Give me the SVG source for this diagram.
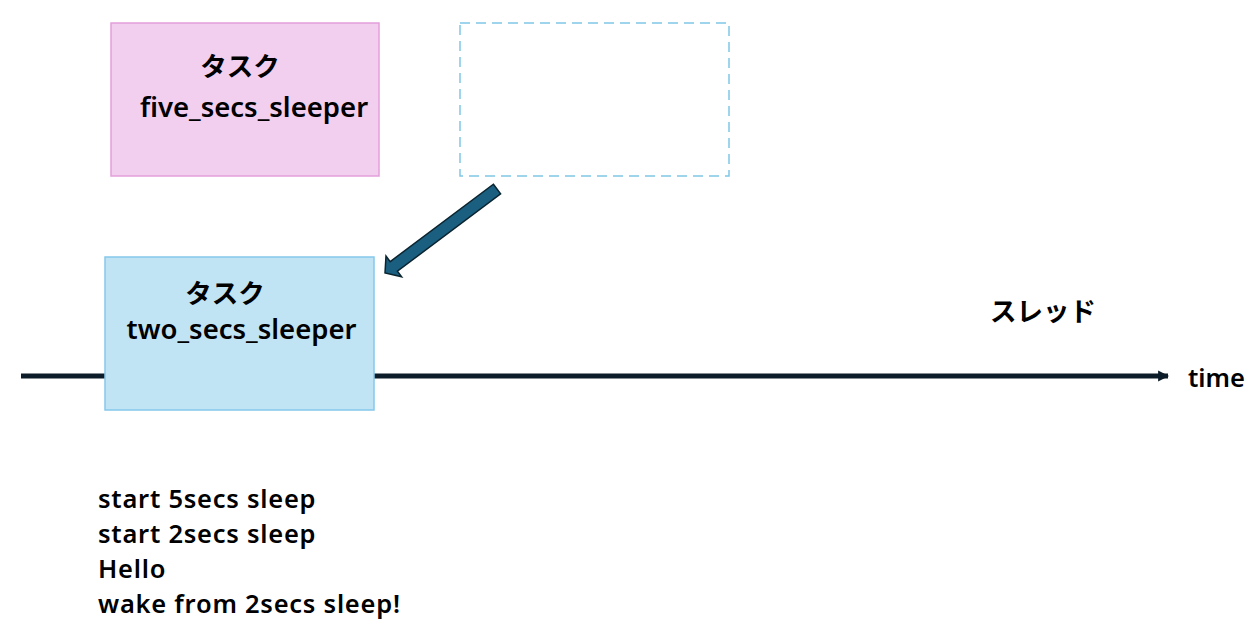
<svg xmlns="http://www.w3.org/2000/svg" width="1248" height="625" viewBox="0 0 1248 625">
<style>
text{font-family:"Noto Sans","Noto Sans CJK JP",sans-serif;font-weight:600;fill:#000;}
.t{font-size:25.5px;letter-spacing:0.75px;}
.n{font-size:27.5px;}
.j{font-family:"Noto Sans CJK JP",sans-serif;font-weight:700;font-size:26.5px;}
</style>
<defs>
<marker id="ah" viewBox="0 0 10 10" refX="9" refY="5" markerWidth="2.2" markerHeight="2.6" orient="auto" markerUnits="strokeWidth">
<path d="M0,0 L10,5 L0,10 Z" fill="#0c1c28"/>
</marker>
</defs>
<rect width="1248" height="625" fill="#fff"/>
<g id="connectors">
<line x1="21" y1="376" x2="1168" y2="376" stroke="#0c1c28" stroke-width="5" marker-end="url(#ah)"/>
<polygon points="493.4,184.2 500.6,193.8 397.4,271.2 401.6,276.8 385,273 386,256 390.2,261.6" fill="#1a5e80" stroke="#0b2530" stroke-width="1.5" stroke-linejoin="miter"/>
</g>
<g id="task-five">
<rect x="111" y="23" width="268" height="153" fill="#f2cfef" stroke="#e39fdb" stroke-width="1.5"/>
<text class="j" x="240" y="76" text-anchor="middle">タスク</text>
<text class="n" x="254" y="117" text-anchor="middle">five_secs_sleeper</text>
</g>
<g id="placeholder">
<rect x="460" y="23" width="269" height="153" fill="none" stroke="#7fc8e8" stroke-width="1.5" stroke-dasharray="10,6"/>
</g>
<g id="task-two">
<rect x="105" y="257" width="269" height="153" fill="#c1e4f5" stroke="#86c8ec" stroke-width="1.5"/>
<text class="j" x="225" y="303" text-anchor="middle">タスク</text>
<text class="n" x="241.5" y="339" text-anchor="middle">two_secs_sleeper</text>
</g>
<g id="thread-label">
<text class="j" x="1043" y="321" text-anchor="middle">スレッド</text>
</g>
<g id="time-label">
<text x="1188" y="387" style="font-size:25.5px">time</text>
</g>
<g id="output">
<text class="t" x="98" y="508">start 5secs sleep</text>
<text class="t" x="98" y="543">start 2secs sleep</text>
<text class="t" x="98" y="578">Hello</text>
<text class="t" x="98" y="613">wake from 2secs sleep!</text>
</g>
</svg>
